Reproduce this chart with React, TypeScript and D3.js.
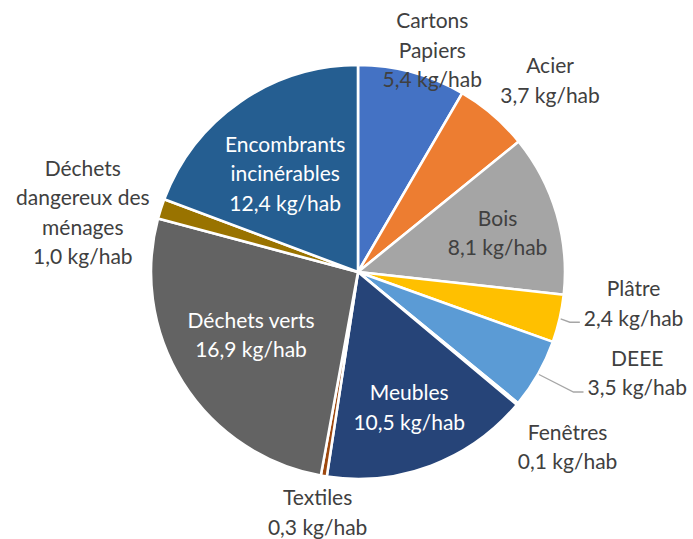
import React, { useEffect, useRef } from "react";
import * as d3 from "d3";

// Déchets collectés en déchèterie, kg/hab
const categories = [
  "Cartons\nPapiers",
  "Acier",
  "Bois",
  "Plâtre",
  "DEEE",
  "Fenêtres",
  "Meubles",
  "Textiles",
  "Déchets verts",
  "Déchets\ndangereux des\nménages",
  "Encombrants\nincinérables",
];
const values = [5.4, 3.7, 8.1, 2.4, 3.5, 0.1, 10.5, 0.3, 16.9, 1.0, 12.4];
const colors = [
  "#4472C4", "#ED7D31", "#A5A5A5", "#FFC000", "#5B9BD5", "#70AD47",
  "#264478", "#9E480E", "#636363", "#997300", "#255E91",
];

// label placement: radius factor, angle nudge (deg), text colour, leader line
const labelR = [1.13, 1.31, 0.7, 1.34, 1.435, 1.32, 0.7, 1.18, 0.6, 1.36, 0.59];
const labelShift = [3.4, 4.5, 0.8, -6.5, -9.6, 0.3, 0, 0, 1.8, -5.6, -1.9];
const labelColor = ["#404040", "#404040", "#404040", "#404040", "#404040", "#404040",
  "#ffffff", "#404040", "#ffffff", "#404040", "#ffffff"];
const leader = [false, false, false, true, true, false, false, false, false, false, false];

const W = 693, H = 539;
const cx = 358, cy = 272, R = 207;
const lineH = 29.5;

function PieChart() {
  const svgRef = useRef<SVGSVGElement>(null);

  useEffect(() => {
    const svg = d3.select(svgRef.current);
    svg.selectAll("*").remove();
    const g = svg.append("g").attr("transform", `translate(${cx},${cy})`);

    const data = values.map((v, i) => ({ v, i }));
    const pie = d3.pie<any>().sort(null).value(d => d.v);
    const arcs = pie(data);
    const arc = d3.arc<any>().innerRadius(0).outerRadius(R);

    g.selectAll("path.slice")
      .data(arcs)
      .join("path")
      .attr("class", "slice")
      .attr("d", arc)
      .attr("fill", d => colors[d.data.i])
      .attr("stroke", "#fff")
      .attr("stroke-width", 2.6)
      .attr("stroke-linejoin", "round");

    const fmt = (v: number) => v.toFixed(1).replace(".", ",") + " kg/hab";

    arcs.forEach(a => {
      const i = a.data.i;
      const mid = (a.startAngle + a.endAngle) / 2 + (labelShift[i] * Math.PI) / 180;
      const r = R * labelR[i];
      const lx = r * Math.sin(mid);
      const ly = -r * Math.cos(mid);
      const lines = categories[i].split("\n").concat(fmt(values[i]));
      const n = lines.length;
      const text = g.append("text")
        .attr("text-anchor", "middle")
        .attr("fill", labelColor[i])
        .style("font-family", "Lato, 'Open Sans', sans-serif")
        .style("font-size", "21px");
      lines.forEach((s, k) => {
        text.append("tspan")
          .attr("x", lx)
          .attr("y", ly + (k - (n - 1) / 2) * lineH)
          .attr("dy", "0.35em")
          .text(s);
      });

      if (leader[i]) {
        const last = text.selectAll<SVGTSpanElement, unknown>("tspan").nodes()[n - 1];
        const w = last.getComputedTextLength();
        const ex = lx - w / 2 - 4;
        const ey = ly + ((n - 1) / 2) * lineH + 4;
        const am = (a.startAngle + a.endAngle) / 2;
        const sx = (R + 1) * Math.sin(am);
        const sy = -(R + 1) * Math.cos(am);
        g.append("polyline")
          .attr("points", `${sx},${sy} ${ex - 10},${ey} ${ex},${ey}`)
          .attr("fill", "none")
          .attr("stroke", "#A6A6A6")
          .attr("stroke-width", 1.3);
      }
    });
  }, []);

  return <svg ref={svgRef} width={W} height={H} style={{ display: "block" }} />;
}

export default function App() {
  return (
    <div style={{ position: "absolute", left: 0, top: 0, background: "#fff" }}>
      <PieChart />
    </div>
  );
}
